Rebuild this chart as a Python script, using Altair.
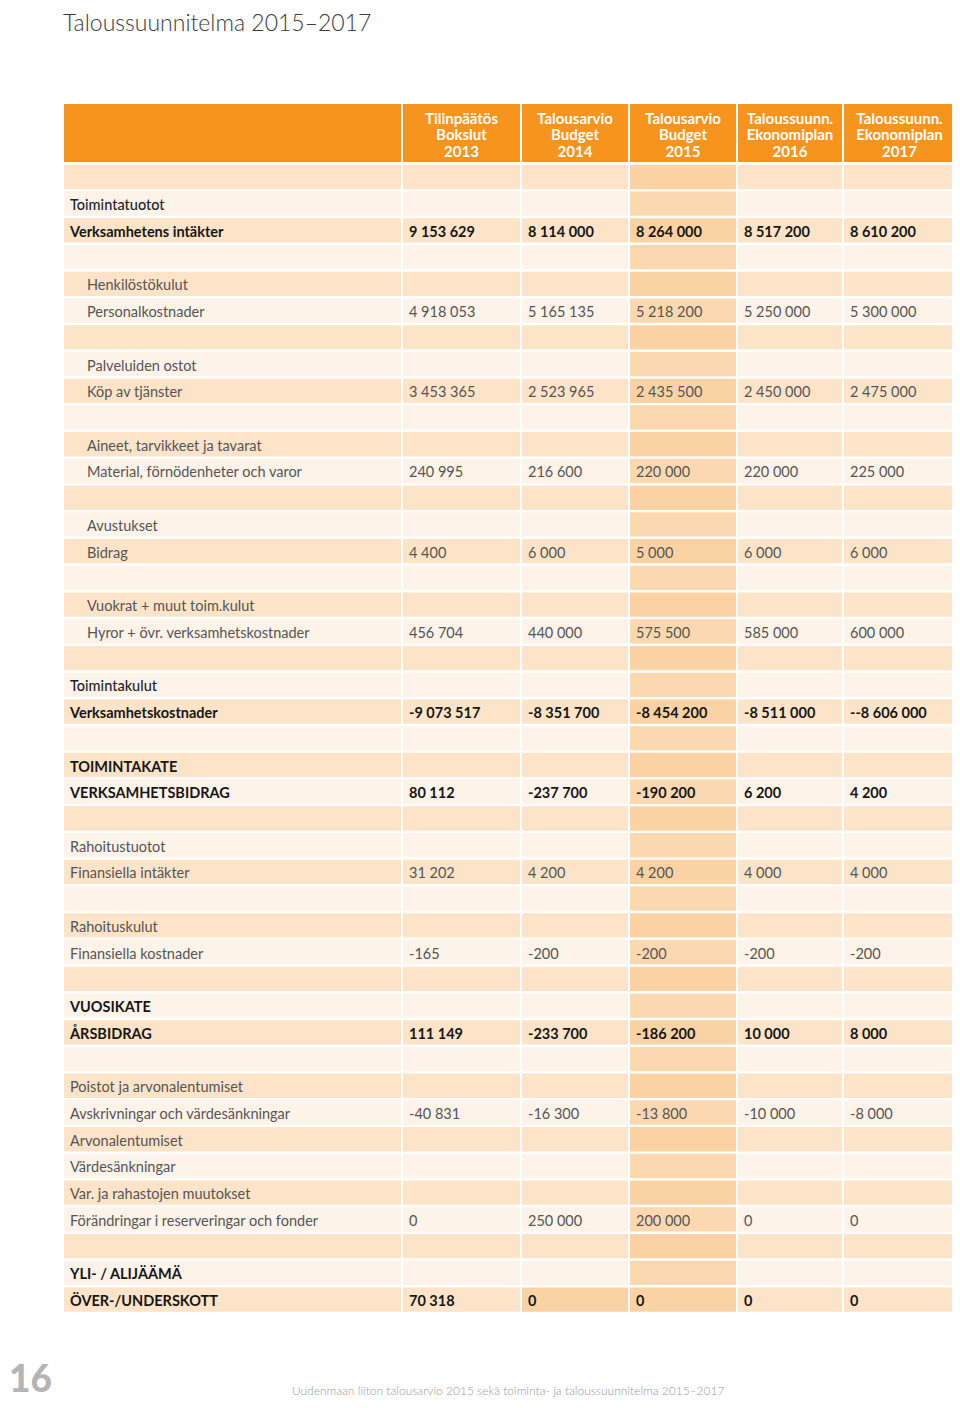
import altair as alt
import pandas as pd

# ---------------- data ----------------
TITLE = "Taloussuunnitelma 2015–2017"
FOOTER = "Uudenmaan liiton talousarvio 2015 sekä toiminta- ja taloussuunnitelma 2015–2017"
PAGE_NO = "16"

years = ["2013", "2014", "2015", "2016", "2017"]
header_lines = [
    ["Tilinpäätös", "Bokslut", "2013"],
    ["Talousarvio", "Budget", "2014"],
    ["Talousarvio", "Budget", "2015"],
    ["Taloussuunn.", "Ekonomiplan", "2016"],
    ["Taloussuunn.", "Ekonomiplan", "2017"],
]

row_labels = [
    "", "Toimintatuotot", "Verksamhetens intäkter",
    "", "Henkilöstökulut", "Personalkostnader",
    "", "Palveluiden ostot", "Köp av tjänster",
    "", "Aineet, tarvikkeet ja tavarat", "Material, förnödenheter och varor",
    "", "Avustukset", "Bidrag",
    "", "Vuokrat + muut toim.kulut", "Hyror + övr. verksamhetskostnader",
    "", "Toimintakulut", "Verksamhetskostnader",
    "", "TOIMINTAKATE", "VERKSAMHETSBIDRAG",
    "", "Rahoitustuotot", "Finansiella intäkter",
    "", "Rahoituskulut", "Finansiella kostnader",
    "", "VUOSIKATE", "ÅRSBIDRAG",
    "", "Poistot ja arvonalentumiset", "Avskrivningar och värdesänkningar",
    "Arvonalentumiset", "Värdesänkningar",
    "Var. ja rahastojen muutokset", "Förändringar i reserveringar och fonder",
    "", "YLI- / ALIJÄÄMÄ", "ÖVER-/UNDERSKOTT",
]

indented_rows = [
    "Henkilöstökulut", "Personalkostnader", "Palveluiden ostot", "Köp av tjänster",
    "Aineet, tarvikkeet ja tavarat", "Material, förnödenheter och varor",
    "Avustukset", "Bidrag", "Vuokrat + muut toim.kulut",
    "Hyror + övr. verksamhetskostnader",
]
bold_rows = [
    "Verksamhetens intäkter", "Verksamhetskostnader", "TOIMINTAKATE",
    "VERKSAMHETSBIDRAG", "VUOSIKATE", "ÅRSBIDRAG", "YLI- / ALIJÄÄMÄ",
    "ÖVER-/UNDERSKOTT",
]
medium_rows = ["Toimintatuotot", "Toimintakulut"]

value_rows = [
    "Verksamhetens intäkter", "Personalkostnader", "Köp av tjänster",
    "Material, förnödenheter och varor", "Bidrag",
    "Hyror + övr. verksamhetskostnader", "Verksamhetskostnader",
    "VERKSAMHETSBIDRAG", "Finansiella intäkter", "Finansiella kostnader",
    "ÅRSBIDRAG", "Avskrivningar och värdesänkningar",
    "Förändringar i reserveringar och fonder", "ÖVER-/UNDERSKOTT",
]
v2013 = ["9 153 629", "4 918 053", "3 453 365", "240 995", "4 400", "456 704",
         "-9 073 517", "80 112", "31 202", "-165", "111 149", "-40 831", "0", "70 318"]
v2014 = ["8 114 000", "5 165 135", "2 523 965", "216 600", "6 000", "440 000",
         "-8 351 700", "-237 700", "4 200", "-200", "-233 700", "-16 300", "250 000", "0"]
v2015 = ["8 264 000", "5 218 200", "2 435 500", "220 000", "5 000", "575 500",
         "-8 454 200", "-190 200", "4 200", "-200", "-186 200", "-13 800", "200 000", "0"]
v2016 = ["8 517 200", "5 250 000", "2 450 000", "220 000", "6 000", "585 000",
         "-8 511 000", "6 200", "4 000", "-200", "10 000", "-10 000", "0", "0"]
v2017 = ["8 610 200", "5 300 000", "2 475 000", "225 000", "6 000", "600 000",
         "--8 606 000", "4 200", "4 000", "-200", "8 000", "-8 000", "0", "0"]
values_by_year = [v2013, v2014, v2015, v2016, v2017]

highlight_year = "2015"
extra_highlight_cells = [("ÖVER-/UNDERSKOTT", "2014")]

# ---------------- layout / style ----------------
W, H = 944, 1392
ORIGIN = 8  # page margin
COL_EDGES = [(64, 401), (403, 520), (522, 628), (630, 736), (738, 842), (844, 955)]
HEADER_TOP, HEADER_BOTTOM = 104, 162
ROW_TOP, ROW_H, GAP = 163.6, 26.73, 1.2
HEADER_BASE = [123.5, 140.2, 156.9]
LABEL_X = {0: 70, 1: 87}
VALUE_PAD = 6
TEXT_DY = 2.5

ORANGE = "#f7941d"
ROW_DARK = "#fde3c7"
ROW_LIGHT = "#fef3e8"
HL_DARK = "#fbd2a4"
HL_LIGHT = "#fcd8b0"
FONT = "Lato"

# ---------------- tables ----------------
cells = []
cols = ["label"] + years
for i, lab in enumerate(row_labels):
    dark = (i % 2 == 0)
    y0 = ROW_TOP + i * ROW_H + GAP
    y1 = ROW_TOP + (i + 1) * ROW_H - GAP
    for c, (x0, x1) in zip(cols, COL_EDGES):
        hl = (c == highlight_year) or ((lab, c) in extra_highlight_cells and lab != "")
        if hl:
            fill = HL_DARK if dark else HL_LIGHT
        else:
            fill = ROW_DARK if dark else ROW_LIGHT
        cells.append(dict(x0=x0, x1=x1, y0=y0, y1=y1, fill=fill))
# header band
for (x0, x1) in COL_EDGES:
    cells.append(dict(x0=x0, x1=x1, y0=HEADER_TOP, y1=HEADER_BOTTOM, fill=ORANGE))
cells_df = pd.DataFrame(cells)

head = []
for (x0, x1), lines in zip(COL_EDGES[1:], header_lines):
    for k, t in enumerate(lines):
        head.append(dict(x=(x0 + x1) / 2, y=HEADER_BASE[k], text=t))
head_df = pd.DataFrame(head)

def style_of(lab):
    if lab in bold_rows:
        return "bold"
    if lab in medium_rows:
        return "medium"
    return "light"

labels = []
for i, lab in enumerate(row_labels):
    if not lab:
        continue
    lvl = 1 if lab in indented_rows else 0
    labels.append(dict(x=LABEL_X[lvl], y=ROW_TOP + (i + 0.5) * ROW_H, text=lab,
                       style=style_of(lab)))
for j, yr in enumerate(years):
    x0 = COL_EDGES[j + 1][0]
    for lab, v in zip(value_rows, values_by_year[j]):
        i = row_labels.index(lab)
        labels.append(dict(x=x0 + VALUE_PAD, y=ROW_TOP + (i + 0.5) * ROW_H, text=v,
                           style=style_of(lab) if style_of(lab) == "bold" else "light"))
text_df = pd.DataFrame(labels)

xs = alt.Scale(domain=[ORIGIN, ORIGIN + W], nice=False, zero=False)
ys = alt.Scale(domain=[ORIGIN, ORIGIN + H], nice=False, zero=False, reverse=True)

rects = alt.Chart(cells_df).mark_rect().encode(
    x=alt.X("x0:Q", scale=xs, axis=None),
    x2="x1:Q",
    y=alt.Y("y0:Q", scale=ys, axis=None),
    y2="y1:Q",
    color=alt.Color("fill:N", scale=None),
)

header_text = alt.Chart(head_df).mark_text(
    align="center", baseline="alphabetic", font=FONT, fontSize=15,
    fontWeight="bold", color="white"
).encode(x=alt.X("x:Q", scale=xs, axis=None), y=alt.Y("y:Q", scale=ys, axis=None),
         text="text:N")

def text_layer(style, weight, color):
    return alt.Chart(text_df).transform_filter(
        alt.datum.style == style
    ).mark_text(
        align="left", baseline="middle", font=FONT, fontSize=14.5, dy=TEXT_DY,
        fontWeight=weight, color=color
    ).encode(x=alt.X("x:Q", scale=xs, axis=None), y=alt.Y("y:Q", scale=ys, axis=None),
             text="text:N")

light = text_layer("light", 400, "#555555")
medium = text_layer("medium", 500, "#1e1e1e")
bold = text_layer("bold", "bold", "#161616")

annot_df = pd.DataFrame([
    dict(x=63, y=31, text=TITLE, kind="title"),
    dict(x=292, y=1395, text=FOOTER, kind="footer"),
    dict(x=9, y=1392, text=PAGE_NO, kind="page"),
])

def annot(kind, **kw):
    return alt.Chart(annot_df).transform_filter(alt.datum.kind == kind).mark_text(
        align="left", baseline="alphabetic", font=FONT, **kw
    ).encode(x=alt.X("x:Q", scale=xs, axis=None), y=alt.Y("y:Q", scale=ys, axis=None),
             text="text:N")

title = annot("title", fontSize=23, fontWeight=300, color="#3a3a3a")
footer = annot("footer", fontSize=12, fontWeight=300, color="#9a9a9a")
page = annot("page", fontSize=37, fontWeight=900, color="#b4b4b4")

chart = alt.layer(rects, header_text, light, medium, bold, title, footer, page).properties(
    width=W, height=H, padding=0, autosize=alt.AutoSizeParams(type="none"),
    background="white",
).configure_view(stroke=None)

chart.save("out.html", embed_options={"renderer": "svg", "actions": False})
